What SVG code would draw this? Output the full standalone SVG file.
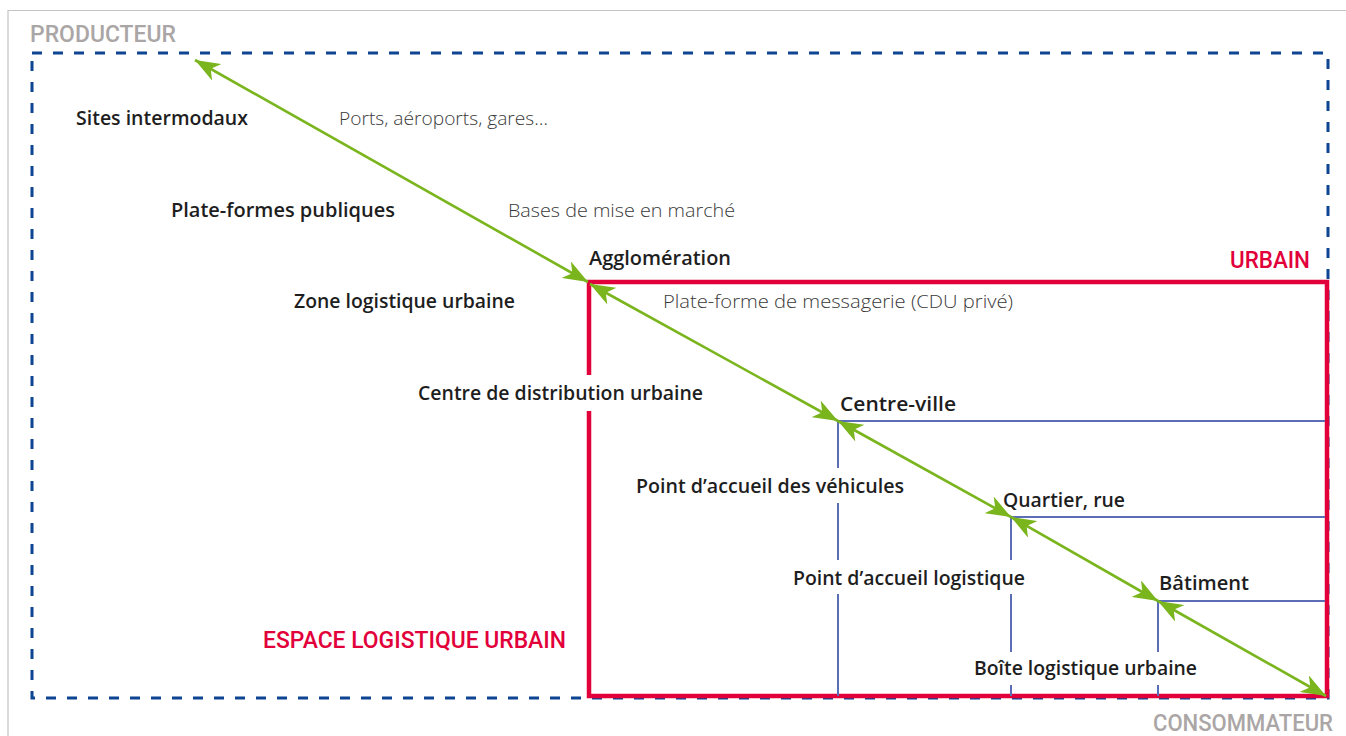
<svg xmlns="http://www.w3.org/2000/svg" width="1346" height="736" viewBox="0 0 1346 736">
<style>
.cap{font-family:Roboto,"Liberation Sans",sans-serif;font-size:23px;font-weight:500}
.grey{fill:#aba6a6}
.red{fill:#e2003b}
.lbl{font-family:"Open Sans","Liberation Sans",sans-serif;font-size:19px;font-weight:600;fill:#1e1e1e}
.lt{font-family:"Open Sans","Liberation Sans",sans-serif;font-size:19px;font-weight:300;fill:#3a3a3a}
.arr{stroke:#7ab51d;stroke-width:2.6;fill:none;marker-start:url(#ah);marker-end:url(#ah)}
.bl{stroke:#5b6db5;stroke-width:2;fill:none}
.gap{fill:#ffffff}
</style>
<defs>
<marker id="ah" viewBox="0 0 25 19" refX="25" refY="9.5" markerWidth="25" markerHeight="19" markerUnits="userSpaceOnUse" orient="auto-start-reverse">
<path d="M25,9.5 L0,0 L7,9.5 L0,19 Z" fill="#7ab51d"/>
</marker>
</defs>
<g id="frame">
<path d="M8,736 V10.5 H1346" stroke="#c4c4c4" stroke-width="1.2" fill="none"/>
<rect x="32" y="53" width="1296" height="645" fill="none" stroke="#0d4593" stroke-width="3" stroke-dasharray="10 11"/>
</g>
<g id="urbain">
<rect x="589" y="282" width="738" height="414" fill="none" stroke="#e2003b" stroke-width="4.5"/>
</g>
<g id="zones">
<path class="bl" d="M838,696 V421 H1325"/>
<path class="bl" d="M1011,696 V517 H1325"/>
<path class="bl" d="M1158,696 V601 H1325"/>
</g>
<g id="gaps">
<rect class="gap" x="580" y="375" width="18" height="36"/>
<rect class="gap" x="830" y="468" width="16" height="35"/>
<rect class="gap" x="830" y="560" width="16" height="34"/>
<rect class="gap" x="1003" y="560" width="16" height="34"/>
<rect class="gap" x="1003" y="652" width="16" height="33"/>
<rect class="gap" x="1150" y="652" width="16" height="33"/>
</g>
<g id="connectors">
<path class="arr" d="M195,60 L588,282"/>
<path class="arr" d="M590,284 L838,421"/>
<path class="arr" d="M838,421 L1011,517"/>
<path class="arr" d="M1011,517 L1158,601"/>
<path class="arr" d="M1158,601 L1326,696"/>
</g>
<g id="producteur"><text class="cap grey" x="30" y="42" textLength="146" lengthAdjust="spacingAndGlyphs">PRODUCTEUR</text></g>
<g id="consommateur"><text class="cap grey" x="1153" y="731" textLength="180" lengthAdjust="spacingAndGlyphs">CONSOMMATEUR</text></g>
<g id="urbain-label"><text class="cap red" x="1230" y="268" textLength="80" lengthAdjust="spacingAndGlyphs">URBAIN</text></g>
<g id="espace"><text class="cap red" x="263" y="648" textLength="303" lengthAdjust="spacingAndGlyphs">ESPACE LOGISTIQUE URBAIN</text></g>
<g id="sites"><text class="lbl" x="76" y="125" textLength="172" lengthAdjust="spacingAndGlyphs">Sites intermodaux</text></g>
<g id="ports"><text class="lt" x="339" y="125" textLength="209" lengthAdjust="spacingAndGlyphs">Ports, aéroports, gares…</text></g>
<g id="plateformes"><text class="lbl" x="171" y="217" textLength="224" lengthAdjust="spacingAndGlyphs">Plate-formes publiques</text></g>
<g id="bases"><text class="lt" x="508" y="217" textLength="227" lengthAdjust="spacingAndGlyphs">Bases de mise en marché</text></g>
<g id="agglo"><text class="lbl" x="589" y="265" textLength="142" lengthAdjust="spacingAndGlyphs">Agglomération</text></g>
<g id="zone"><text class="lbl" x="294" y="308" textLength="221" lengthAdjust="spacingAndGlyphs">Zone logistique urbaine</text></g>
<g id="messagerie"><text class="lt" x="663" y="308" textLength="350" lengthAdjust="spacingAndGlyphs">Plate-forme de messagerie (CDU privé)</text></g>
<g id="cdu"><text class="lbl" x="418" y="400" textLength="285" lengthAdjust="spacingAndGlyphs">Centre de distribution urbaine</text></g>
<g id="centreville"><text class="lbl" x="840" y="411" textLength="116" lengthAdjust="spacingAndGlyphs">Centre-ville</text></g>
<g id="vehicules"><text class="lbl" x="636" y="493" textLength="268" lengthAdjust="spacingAndGlyphs">Point d’accueil des véhicules</text></g>
<g id="quartier"><text class="lbl" x="1003" y="507" textLength="122" lengthAdjust="spacingAndGlyphs">Quartier, rue</text></g>
<g id="logistique"><text class="lbl" x="793" y="585" textLength="232" lengthAdjust="spacingAndGlyphs">Point d’accueil logistique</text></g>
<g id="batiment"><text class="lbl" x="1159" y="590" textLength="90" lengthAdjust="spacingAndGlyphs">Bâtiment</text></g>
<g id="boite"><text class="lbl" x="974" y="675" textLength="223" lengthAdjust="spacingAndGlyphs">Boîte logistique urbaine</text></g>
</svg>
